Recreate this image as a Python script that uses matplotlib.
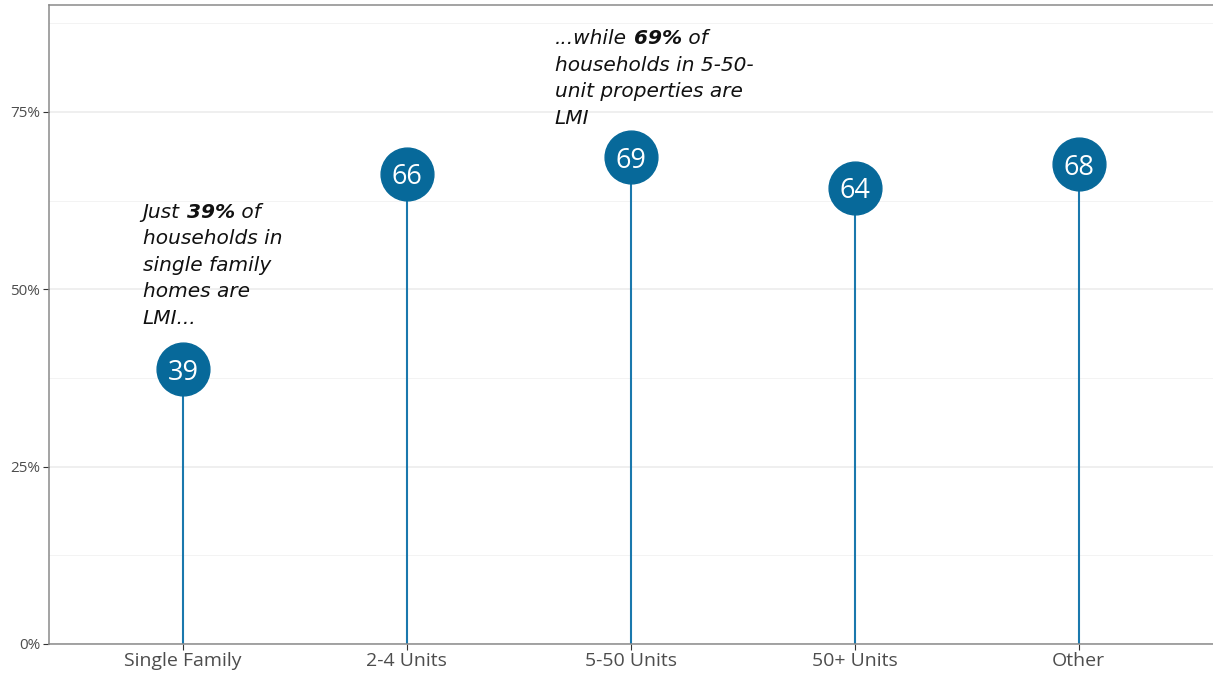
import matplotlib
matplotlib.use("Agg")
from matplotlib import pyplot as plt
from matplotlib.ticker import MultipleLocator, PercentFormatter


CATEGORIES = ["Single Family", "2-4 Units", "5-50 Units", "50+ Units", "Other"]
SHARE_LMI = [0.387, 0.663, 0.686, 0.643, 0.676]
LABELS = ["39", "66", "69", "64", "68"]

NOTE_LEFT = ["Just", " 39%", " of"]
NOTE_LEFT_REST = "households in\nsingle family\nhomes are\nLMI..."
NOTE_MID = ["...while", " 69%", " of"]
NOTE_MID_REST = "households in 5-50-\nunit properties are\nLMI"

BLUE = "#07699a"
FONT = "Open Sans"
NOTE_FONT = "DejaVu Sans"


def note(ax, x, y, pieces, rest):
    """first line in pieces (middle one bold), the rest below it"""
    style = dict(fontsize=14.5, family=NOTE_FONT, style="italic",
                 color="#111111")
    first = ax.text(x, y, pieces[0], va="bottom", ha="left", **style)
    prev = first
    for i, piece in enumerate(pieces[1:]):
        weight = "bold" if i == 0 else "normal"
        prev = ax.annotate(piece, xy=(1, 0), xycoords=prev, va="bottom",
                           ha="left", fontweight=weight, **style)
    # gap so the first line sits one line-step above the rest
    ax.annotate(rest, xy=(0, 0), xycoords=first, xytext=(0, -5.5),
                textcoords="offset points", va="top", ha="left",
                linespacing=1.5, **style)


fig = plt.figure(figsize=(12.13, 6.75), dpi=100)
ax = fig.add_axes([0.04, 0.046, 0.96, 0.946])

x = list(range(len(CATEGORIES)))
ax.vlines(x, 0, SHARE_LMI, color="#1a78ad", linewidth=1.5, zorder=2)
ax.plot(x, SHARE_LMI, "o", color=BLUE, markersize=38, zorder=3)
for xi, v, lab in zip(x, SHARE_LMI, LABELS):
    ax.text(xi, v, lab, ha="center", va="center_baseline", color="white",
            fontsize=19.5, family=FONT, zorder=4)

note(ax, -0.18, 0.595, NOTE_LEFT, NOTE_LEFT_REST)
note(ax, 1.66, 0.84, NOTE_MID, NOTE_MID_REST)

ax.set_xlim(-0.6, 4.6)
ax.set_ylim(0, 0.9)
ax.set_xticks(x)
ax.set_xticklabels(CATEGORIES, fontsize=14, family=FONT, color="#4d4d4d")
ax.yaxis.set_major_locator(MultipleLocator(0.25))
ax.yaxis.set_minor_locator(MultipleLocator(0.125))
ax.yaxis.set_major_formatter(PercentFormatter(1.0, decimals=0))
for lab in ax.get_yticklabels():
    lab.set_fontsize(11)
    lab.set_family(FONT)
    lab.set_color("#4d4d4d")

ax.grid(axis="y", which="major", color="#ebebeb", linewidth=1.1, zorder=0)
ax.grid(axis="y", which="minor", color="#f3f3f3", linewidth=0.7, zorder=0)
ax.set_axisbelow(True)
ax.tick_params(axis="both", which="major", length=4, color="#333333", pad=2)
ax.tick_params(axis="y", which="minor", length=0)

for side in ["left", "bottom", "top"]:
    ax.spines[side].set_color("#8a8a8a")
    ax.spines[side].set_linewidth(1.1)
ax.spines["right"].set_visible(False)

fig.savefig("out.png", dpi=100)
